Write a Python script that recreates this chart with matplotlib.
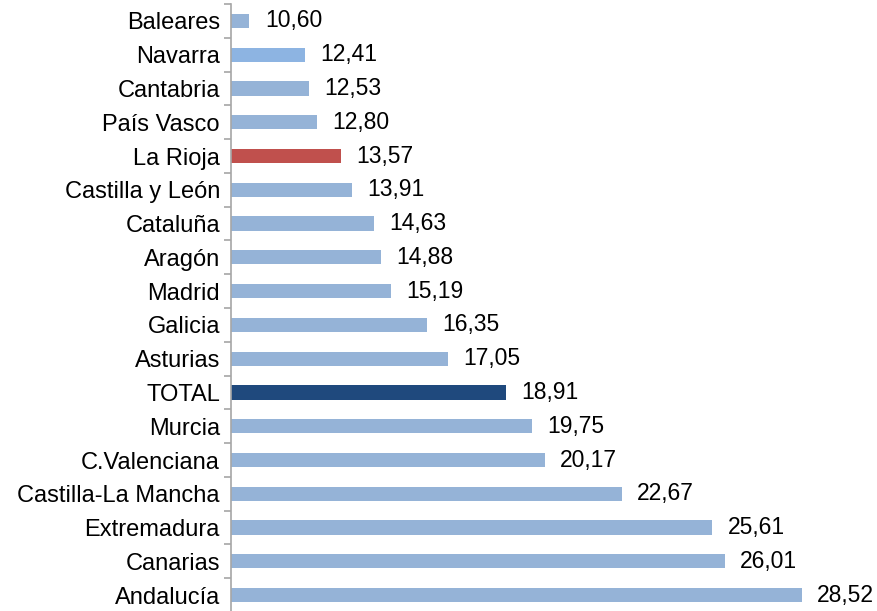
import matplotlib.pyplot as plt
from matplotlib.ticker import FixedLocator

regions = ["Baleares", "Navarra", "Cantabria", "País Vasco", "La Rioja",
           "Castilla y León", "Cataluña", "Aragón", "Madrid", "Galicia",
           "Asturias", "TOTAL", "Murcia", "C.Valenciana", "Castilla-La Mancha",
           "Extremadura", "Canarias", "Andalucía"]
values = [10.60, 12.41, 12.53, 12.80, 13.57, 13.91, 14.63, 14.88, 15.19,
          16.35, 17.05, 18.91, 19.75, 20.17, 22.67, 25.61, 26.01, 28.52]

base_color = "#95B3D7"
special = {"Navarra": "#8DB4E2", "La Rioja": "#C0504D", "TOTAL": "#1F497D"}
colors = [special.get(r, base_color) for r in regions]

plt.rcParams["font.family"] = ["Liberation Sans", "DejaVu Sans"]

fig = plt.figure(figsize=(8.78, 6.11), dpi=100)
ax = fig.add_axes([231 / 878, -1 / 611, 616.6 / 878, 608 / 611])

y = list(range(len(regions)))
ax.barh(y, [v - 10 for v in values], left=10, height=0.42, color=colors)

for yi, v in zip(y, values):
    ax.annotate(f"{v:.2f}".replace(".", ","), xy=(v, yi), xytext=(11, 0),
                textcoords="offset points", va="center", ha="left",
                fontsize=16.5, color="black")

ax.set_xlim(10, 30)
ax.set_ylim(len(regions) - 0.5, -0.5)
ax.set_yticks(y)
ax.set_yticklabels(regions, fontsize=17)
ax.yaxis.set_minor_locator(FixedLocator([i + 0.5 for i in range(-1, len(regions))]))
ax.tick_params(axis="y", which="major", length=0, pad=8)
ax.tick_params(axis="y", which="minor", length=5, color="#A6A6A6", width=1.2)
ax.set_xticks([])

for side in ["top", "right", "bottom"]:
    ax.spines[side].set_visible(False)
ax.spines["left"].set_color("#A6A6A6")
ax.spines["left"].set_linewidth(1.2)

fig.savefig("out.png", dpi=100)
